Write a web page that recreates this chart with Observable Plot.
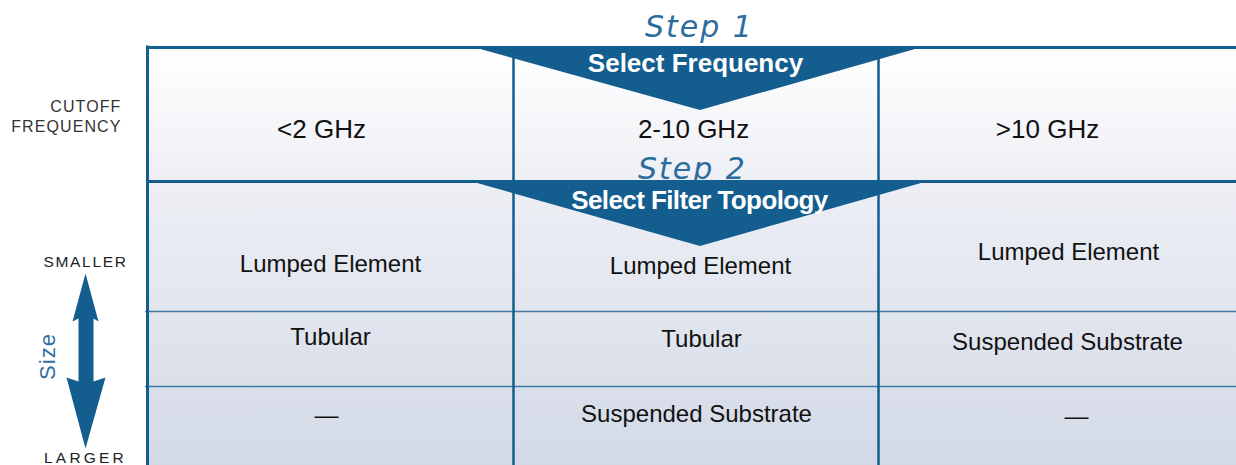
<!DOCTYPE html>
<html><head><meta charset="utf-8">
<script src="https://cdn.jsdelivr.net/npm/d3@7"></script>
<script src="https://cdn.jsdelivr.net/npm/@observablehq/plot@0.6"></script>
<style>body{margin:0;background:#fff;overflow:hidden}</style>
</head><body><div id="chart"></div>
<script>
// ---- content ----
const frequencies = ["<2 GHz", "2-10 GHz", ">10 GHz"];
const topologySmaller = ["Lumped Element", "Lumped Element", "Lumped Element"];
const topologyMiddle = ["Tubular", "Tubular", "Suspended Substrate"];
const topologyLarger = ["\u2014", "Suspended Substrate", "\u2014"];
const steps = ["Step 1", "Step 2"];
const stepActions = ["Select Frequency", "Select Filter Topology"];
const rowLabelLines = ["CUTOFF", "FREQUENCY"];
const sizeEnds = ["SMALLER", "LARGER"];
const sizeTitle = "Size";

// ---- layout (diagram geometry, in the layout scale units) ----
const W = 1236, H = 465;
const colEdges = [147, 513, 878, 1245];
const rowEdges = [47, 181, 311, 386, 470];
const textX = [[321, 693, 1047], [330, 700, 1068], [330, 701, 1067], [326, 696, 1076]];
const textY = [[129, 129, 129], [264, 266, 252], [337, 339, 342], [415, 414, 416]];
const stepX = [699, 692], stepY = [26.5, 168.5];
const actionX = [695, 699], actionY = [63.5, 200.5];
const bannerTop = [47, 181], bannerTip = [110, 246];
const bannerLeft = [473, 470], bannerRight = [922, 928], bannerTipX = [700, 700];
const arrowShape = [[85,273],[98,321],[93,318],[93,381],[105,377],[85,448],[66,377],[78,381],[78,318],[72,321]];
const rowLabelX = 121, rowLabelY = [106, 126];
const sizeEndX = 85, sizeEndY = [262, 457.5];
const sizeTitleX = 47, sizeTitleY = 356;

const blue = "#135d8f";
const font = "'Liberation Sans', Arial, sans-serif";

// ---- data tables built from the arrays ----
const rowsText = [frequencies, topologySmaller, topologyMiddle, topologyLarger];
const cells = rowsText.flatMap((row, r) => row.map((label, c) => ({label, r, c, x: textX[r][c], y: textY[r][c]})));
const banners = stepActions.flatMap((a, i) => [
  {i, x: bannerLeft[i], y1: bannerTop[i], y2: bannerTop[i]},
  {i, x: bannerTipX[i], y1: bannerTop[i], y2: bannerTip[i]},
  {i, x: bannerRight[i], y1: bannerTop[i], y2: bannerTop[i]}
]);
const arrowPts = arrowShape.map(([x, y]) => ({x, y}));

const defs = () => {
  const d = d3.create("svg:defs");
  const g = d.append("linearGradient").attr("id", "bg").attr("x1", 0).attr("y1", 0).attr("x2", 0).attr("y2", 1);
  g.append("stop").attr("offset", "0%").attr("stop-color", "#ffffff");
  g.append("stop").attr("offset", "32%").attr("stop-color", "#eeeff5");
  g.append("stop").attr("offset", "100%").attr("stop-color", "#d2d9e6");
  return d.node();
};

const plot = Plot.plot({
  width: W, height: H, margin: 0,
  x: {domain: [0, W], range: [0, W], axis: null},
  y: {domain: [0, H], range: [0, H], axis: null},
  style: {fontFamily: font, background: "#fff"},
  marks: [
    defs,
    Plot.rect([{x1: colEdges[0], x2: colEdges[3], y1: rowEdges[0], y2: rowEdges[4]}],
      {x1: "x1", x2: "x2", y1: "y1", y2: "y2", fill: "url(#bg)"}),
    Plot.ruleY(rowEdges.slice(2, 4), {x1: colEdges[0] - 2, x2: colEdges[3], stroke: "#3f77a5", strokeWidth: 1.5}),
    Plot.ruleX(colEdges.slice(1, 3), {y1: rowEdges[0], y2: rowEdges[4], stroke: blue, strokeWidth: 2.5}),
    Plot.ruleY(rowEdges.slice(0, 2), {x1: colEdges[0], x2: colEdges[3], stroke: blue, strokeWidth: 3}),
    Plot.ruleX([colEdges[0]], {y1: rowEdges[0] - 1.5, y2: rowEdges[4], stroke: blue, strokeWidth: 3}),
    Plot.text(cells, {x: "x", y: "y", text: "label", fontSize: d => d.r === 0 ? 26 : 24, fill: "#111", fontFamily: font}),
    Plot.text(steps, {x: (d, i) => stepX[i], y: (d, i) => stepY[i], text: d => d, fontSize: 30, fontStyle: "oblique", fill: "#2c6c9d", fontFamily: "'DejaVu Sans', sans-serif"}),
    Plot.areaY(banners, {x: "x", y1: "y1", y2: "y2", z: "i", fill: blue, curve: "linear"}),
    Plot.text(stepActions, {x: (d, i) => actionX[i], y: (d, i) => actionY[i], text: d => d, fontSize: 26, fontWeight: "bold", fill: "#fff", fontFamily: font}),
    Plot.text(rowLabelLines, {x: rowLabelX, y: (d, i) => rowLabelY[i], text: d => d, textAnchor: "end", fontSize: 16, fill: "#333", fontFamily: font}),
    Plot.text(sizeEnds, {x: sizeEndX, y: (d, i) => sizeEndY[i], text: d => d, fontSize: 15.5, fill: "#222", fontFamily: font}),
    Plot.line(arrowPts, {x: "x", y: "y", fill: blue, stroke: "none", curve: "linear-closed"}),
    Plot.text([sizeTitle], {x: sizeTitleX, y: sizeTitleY, text: d => d, rotate: -90, fontSize: 22, fill: "#2f6f9f", fontFamily: font})
  ]
});

const spacing = new Map([
  ...steps.map(t => [t, "2px"]),
  [stepActions[1], "-0.6px"],
  ...rowLabelLines.map(t => [t, "1.1px"]),
  [sizeEnds[0], "1.7px"],
  [sizeEnds[1], "3.2px"],
  [sizeTitle, "1px"]
]);
d3.select(plot).selectAll("text").each(function () {
  const t = this.textContent;
  if (spacing.has(t)) this.setAttribute("letter-spacing", spacing.get(t));
});
document.getElementById("chart").appendChild(plot);
</script>
</body></html>
